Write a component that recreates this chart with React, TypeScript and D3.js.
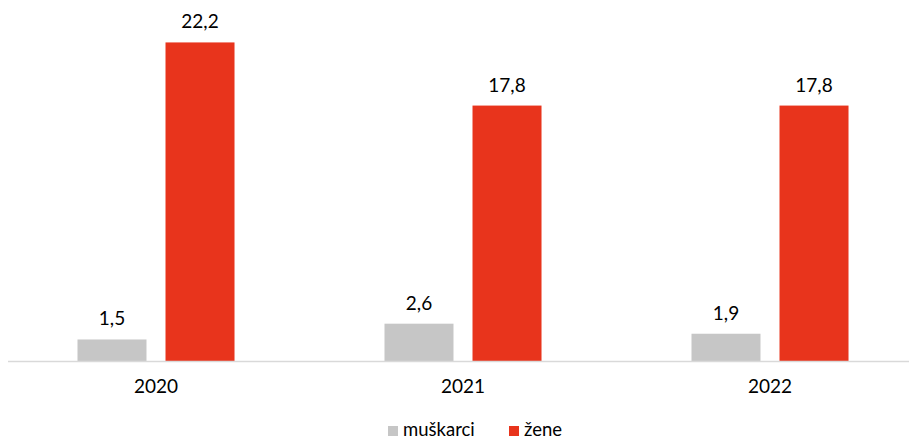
import React from 'react';
import * as d3 from 'd3';

// Chart data
const years = ['2020', '2021', '2022'];
const seriesNames = ['muškarci', 'žene'];
const muskarci = [1.5, 2.6, 1.9];
const zene = [22.2, 17.8, 17.8];
const colors = ['#c6c6c6', '#e8341c'];

const W = 909;
const H = 440;
const baseline = 361;
const font = 'Lato, "Open Sans", sans-serif';

const App: React.FC = () => {
  const values = [muskarci, zene];
  // Outer band for each year, inner band for the two series
  const x = d3.scaleBand<string>().domain(years).range([2.5, 923.5]).padding(0);
  const xInner = d3.scaleBand<string>().domain(seriesNames).range([0, x.bandwidth()]).paddingInner(0.216).paddingOuter(0.852);
  const y = d3.scaleLinear().domain([0, 25]).range([baseline, 2.25]);
  const fmt = (v: number) => v.toFixed(1).replace('.', ',');

  return <div style={{ position: 'fixed', left: 0, top: 0 }}>
      <svg width={W} height={H} style={{ display: 'block', background: '#fff' }}>
        {years.map((yr, i) => <g key={yr} transform={`translate(${x(yr)},0)`}>
            {seriesNames.map((s, j) => {
          const v = values[j][i];
          const bx = xInner(s) || 0;
          return <g key={s}>
                  <rect x={bx} y={y(v)} width={xInner.bandwidth()} height={baseline - y(v)} fill={colors[j]} />
                  <text x={bx + xInner.bandwidth() / 2} y={y(v) - 14} textAnchor="middle" fontFamily={font} fontSize={19} fill="#000">
                    {fmt(v)}
                  </text>
                </g>;
        })}
            <text x={x.bandwidth() / 2} y={393} textAnchor="middle" fontFamily={font} fontSize={19} fill="#000">
              {yr}
            </text>
          </g>)}
        {/* category axis line */}
        <line x1={8} x2={909} y1={baseline + 0.5} y2={baseline + 0.5} stroke="#d9d9d9" strokeWidth={1.5} />
        {/* legend */}
        <g>
          <rect x={388} y={426} width={10} height={10} fill={colors[0]} />
          <text x={403} y={435.5} fontFamily={font} fontSize={18.5} fill="#000">{seriesNames[0]}</text>
          <rect x={509} y={426} width={10} height={10} fill={colors[1]} />
          <text x={524} y={435.5} fontFamily={font} fontSize={18.5} fill="#000">{seriesNames[1]}</text>
        </g>
      </svg>
    </div>;
};

export default App;
